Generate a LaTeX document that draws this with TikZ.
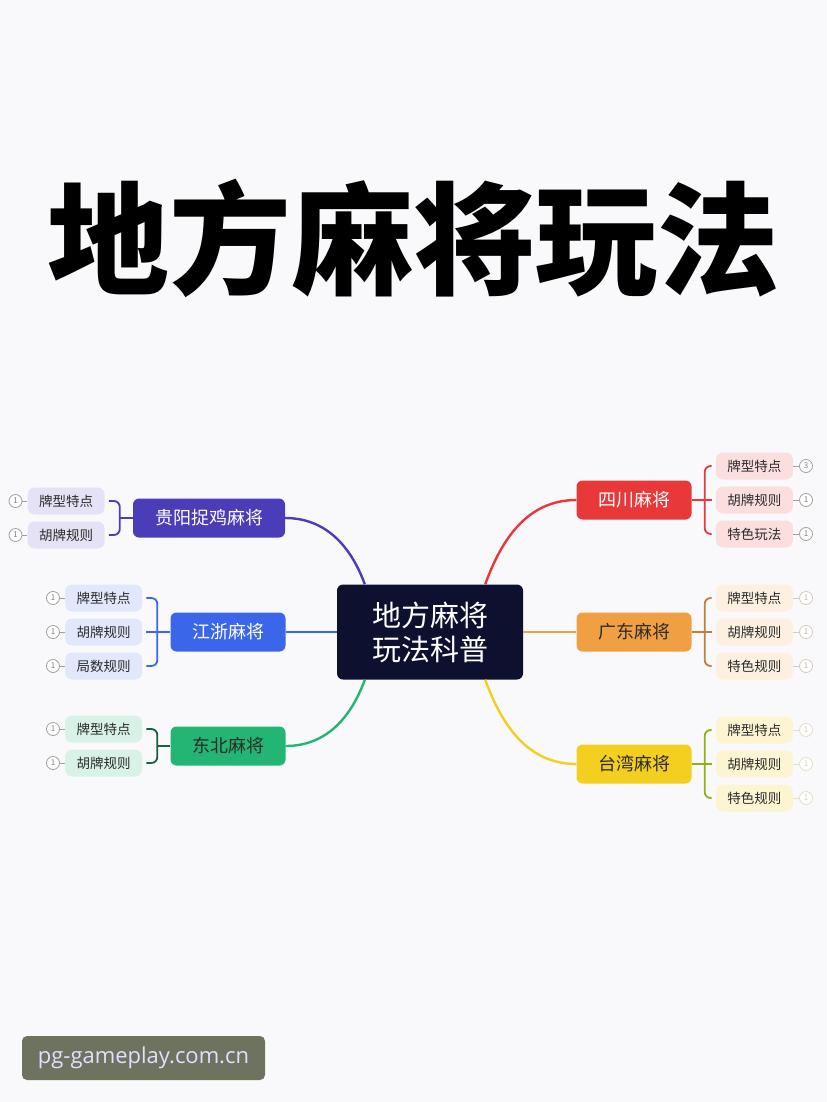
\documentclass[tikz,border=0pt]{standalone}
\usepackage{fontspec}
\newfontfamily\cjk{Noto Sans CJK SC}
\newfontfamily\wmfont{Open Sans}
\usetikzlibrary{positioning}
\definecolor{cBg}{HTML}{F9F9FC}
\definecolor{cNavy}{HTML}{0E1030}
\definecolor{cPurple}{HTML}{4B3DB8}
\definecolor{cBlue}{HTML}{3A66EA}
\definecolor{cGreen}{HTML}{22B573}
\definecolor{cRed}{HTML}{E8383A}
\definecolor{cOrange}{HTML}{F0A043}
\definecolor{cYellow}{HTML}{F3CF1F}
\definecolor{cText}{HTML}{2B2B2B}
\definecolor{cMark}{HTML}{6E7360}

\begin{document}
\begin{tikzpicture}[
  x=1pt, y=1pt,
  node distance=28pt,
  hub/.style={rectangle, rounded corners=6pt, fill=cNavy, text=white, minimum width=186pt,
              minimum height=95pt, align=center, font=\cjk\fontsize{29}{34}\selectfont},
  branch/.style={rectangle, rounded corners=6pt, minimum width=115pt, minimum height=39pt,
                 inner xsep=10pt, font=\cjk\fontsize{18}{20}\selectfont},
  bP/.style={branch, fill=cPurple, text=white, minimum width=152pt},
  bB/.style={branch, fill=cBlue, text=white},
  bG/.style={branch, fill=cGreen, text=cText},
  bR/.style={branch, fill=cRed, text=white},
  bO/.style={branch, fill=cOrange, text=cText},
  bY/.style={branch, fill=cYellow, text=cText},
  leaf/.style={rectangle, rounded corners=7pt, minimum width=77pt, minimum height=27pt,
               font=\cjk\fontsize{13.5}{16}\selectfont, text=cText},
  lP/.style={leaf, fill=cPurple!15},
  lB/.style={leaf, fill=cBlue!15},
  lG/.style={leaf, fill=cGreen!17},
  lR/.style={leaf, fill=cRed!16},
  lO/.style={leaf, fill=cOrange!16},
  lY/.style={leaf, fill=cYellow!20},
  num/.style={circle, draw=gray!75, fill=white, line width=0.8pt, minimum size=13pt,
              inner sep=0pt, font=\cjk\fontsize{8}{8}\selectfont, text=gray},
  numO/.style={num, draw=cOrange!30!gray!45, text=cOrange!30!gray!60},
  numY/.style={num, draw=cYellow!40!gray!35, text=cYellow!40!gray!45},
  numln/.style={draw=gray!75, line width=0.8pt},
  ln/.style={line width=2.4pt},
  brk/.style={line width=1.8pt, rounded corners=6pt, shorten <=4pt, shorten >=4pt},
]
\useasboundingbox (0,0) rectangle (827,-1102);
\fill[cBg] (0,0) rectangle (827,-1102);

\node[font=\cjk\bfseries\fontsize{122}{130}\selectfont] (title) at (413,-238) {地方麻将玩法};

\node[hub] (hub) at (430,-632) {地方麻将\\玩法科普};

\node[bP] (gy) at (209,-518) {贵阳捉鸡麻将};
\node[bB] (jz) at (228,-632) {江浙麻将};
\node[bG] (db) at (228,-746) {东北麻将};
\node[bR] (sc) at (634,-500) {四川麻将};
\node[bO] (gd) at (634,-632) {广东麻将};
\node[bY] (tw) at (634,-764) {台湾麻将};

\draw[ln, cPurple] (gy.east) to[out=0, in=110] ([xshift=28pt]hub.north west);
\draw[ln, cBlue]   (jz) -- (hub);
\draw[ln, cGreen]  (db.east) to[out=0, in=-110] ([xshift=28pt]hub.south west);
\draw[ln, cRed]    (sc.west) to[out=180, in=70] ([xshift=-38pt]hub.north east);
\draw[ln, cOrange] (gd) -- (hub);
\draw[ln, cYellow] (tw.west) to[out=180, in=-70] ([xshift=-38pt]hub.south east);

% left side
\node[lP, left=of gy, yshift=17pt]  (gy1) {牌型特点};
\node[lP, left=of gy, yshift=-17pt] (gy2) {胡牌规则};
\coordinate[left=13pt of gy] (gyb);
\draw[ln, line width=1.8pt, cPurple] (gy) -- (gyb);
\draw[brk, cPurple] (gy1.east) -| (gyb) |- (gy2.east);

\node[lB, left=of jz, yshift=34pt]  (jz1) {牌型特点};
\node[lB, left=of jz]               (jz2) {胡牌规则};
\node[lB, left=of jz, yshift=-34pt] (jz3) {局数规则};
\coordinate[left=13pt of jz] (jzb);
\draw[brk, cBlue, shorten <=0pt] (jz.west) -- (jz2.east);
\draw[brk, cBlue] (jz1.east) -| (jzb) |- (jz3.east);

\node[lG, left=of db, yshift=17pt]  (db1) {牌型特点};
\node[lG, left=of db, yshift=-17pt] (db2) {胡牌规则};
\coordinate[left=13pt of db] (dbb);
\draw[ln, line width=1.8pt, cGreen!55!black] (db) -- (dbb);
\draw[brk, cGreen!55!black] (db1.east) -| (dbb) |- (db2.east);

\foreach \n in {gy1,gy2,jz1,jz2,jz3,db1,db2}{
  \node[num, left=5pt of \n] (\n n) {1};
  \draw[numln] (\n n) -- (\n);
}

% right side
\node[lR, right=24pt of sc, yshift=34pt]  (sc1) {牌型特点};
\node[lR, right=24pt of sc]               (sc2) {胡牌规则};
\node[lR, right=24pt of sc, yshift=-34pt] (sc3) {特色玩法};
\coordinate[right=13pt of sc] (scb);
\draw[brk, cRed, shorten <=0pt] (sc.east) -- (sc2.west);
\draw[brk, cRed] (sc1.west) -| (scb) |- (sc3.west);

\node[lO, right=24pt of gd, yshift=34pt]  (gd1) {牌型特点};
\node[lO, right=24pt of gd]               (gd2) {胡牌规则};
\node[lO, right=24pt of gd, yshift=-34pt] (gd3) {特色规则};
\coordinate[right=13pt of gd] (gdb);
\draw[brk, cOrange!80!black, shorten <=0pt] (gd.east) -- (gd2.west);
\draw[brk, cOrange!80!black] (gd1.west) -| (gdb) |- (gd3.west);

\node[lY, right=24pt of tw, yshift=34pt]  (tw1) {牌型特点};
\node[lY, right=24pt of tw]               (tw2) {胡牌规则};
\node[lY, right=24pt of tw, yshift=-34pt] (tw3) {特色规则};
\coordinate[right=13pt of tw] (twb);
\draw[brk, cYellow!75!green!80!black, shorten <=0pt] (tw.east) -- (tw2.west);
\draw[brk, cYellow!75!green!80!black] (tw1.west) -| (twb) |- (tw3.west);

\node[num, right=6pt of sc1] (sc1n) {3};
\node[num, right=6pt of sc2] (sc2n) {1};
\node[num, right=6pt of sc3] (sc3n) {1};
\draw[numln] (sc1) -- (sc1n);
\draw[numln] (sc2) -- (sc2n);
\draw[numln] (sc3) -- (sc3n);
\foreach \n in {gd1,gd2,gd3}{
  \node[numO, right=6pt of \n] (\n n) {1};
  \draw[numln, draw=cOrange!30!gray!45] (\n) -- (\n n);
}
\foreach \n in {tw1,tw2,tw3}{
  \node[numY, right=6pt of \n] (\n n) {1};
  \draw[numln, draw=cYellow!40!gray!35] (\n) -- (\n n);
}

\node[rectangle, rounded corners=5pt, fill=cMark, text=white!88!blue, minimum width=243pt,
      minimum height=44pt, font=\wmfont\fontsize{22}{26}\selectfont] (mark) at (143.5,-1058)
  {pg-gameplay.com.cn};
\end{tikzpicture}
\end{document}
